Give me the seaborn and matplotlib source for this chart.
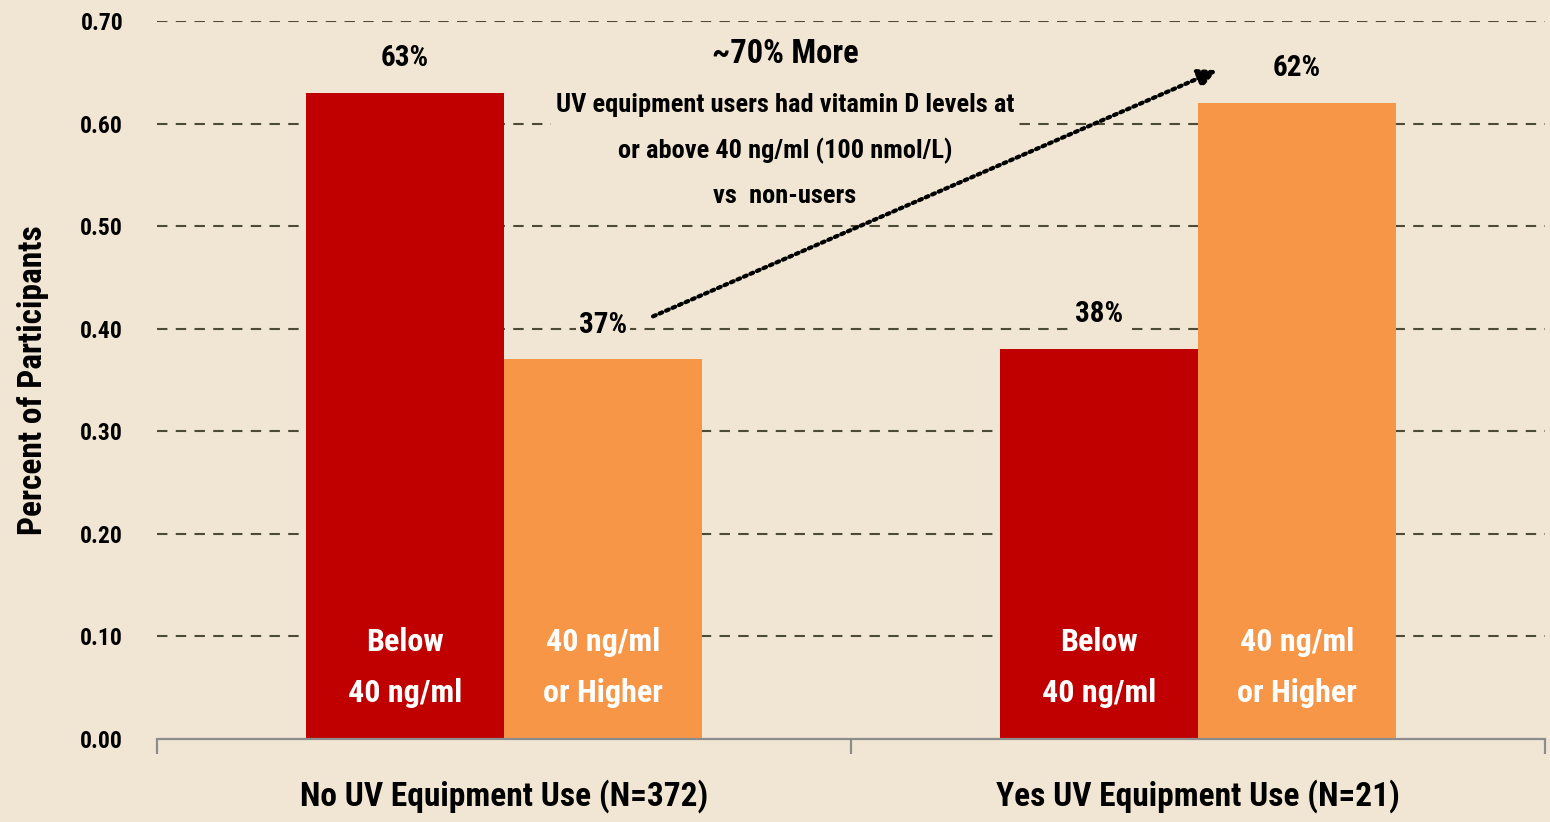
import seaborn as sns
import matplotlib.pyplot as plt
import pandas as pd
from matplotlib import font_manager

# data
groups = ["No UV Equipment Use (N=372)", "Yes UV Equipment Use (N=21)"]
levels = ["Below\n40 ng/ml", "40 ng/ml\nor Higher"]
below_vals = [0.63, 0.38]
above_vals = [0.37, 0.62]
yticks = [0.0, 0.1, 0.2, 0.3, 0.4, 0.5, 0.6, 0.7]

df = pd.DataFrame({
    "group": groups * 2,
    "level": [levels[0]] * 2 + [levels[1]] * 2,
    "value": below_vals + above_vals,
})

BG = "#F1E6D3"
RED = "#C00000"
ORANGE = "#F79646"

sns.set_theme(style="white")
fonts = font_manager.fontManager.ttflist
names = {f.name for f in fonts}
narrow = [n for n in ["Roboto Condensed", "Liberation Sans Narrow", "Open Sans Condensed"] if n in names]
FONT = narrow[0] if narrow else "DejaVu Sans"
plt.rcParams["font.family"] = [FONT, "DejaVu Sans"]
plt.rcParams["font.weight"] = "bold"
plt.rcParams["font.stretch"] = "condensed"
plt.rcParams["text.color"] = "black"
plt.rcParams["axes.labelcolor"] = "black"

fig = plt.figure(figsize=(15.5, 8.22), dpi=100, facecolor=BG)
ax = fig.add_axes([0.101, 0.101, 0.896, 0.8735], facecolor=BG)

sns.barplot(data=df, x="group", y="value", hue="level", hue_order=levels,
            palette={levels[0]: RED, levels[1]: ORANGE}, width=0.57,
            saturation=1, legend=False, linewidth=0, ax=ax, zorder=3)

ax.set_xlim(-0.5, 1.5)
ax.set_ylim(0, 0.7)
ax.set_yticks(yticks)
ax.set_yticklabels([f"{t:.2f}" for t in yticks], fontsize=17, fontweight="bold")
ax.tick_params(axis="y", length=0, pad=24, colors="black")

# grid
for t in yticks[1:]:
    ax.axhline(t, color="#4d4a38", lw=1.5, ls=(0, (5, 4)), zorder=1)

for s in ["top", "right", "left"]:
    ax.spines[s].set_visible(False)
ax.spines["bottom"].set_color("#8c8c8c")
ax.spines["bottom"].set_linewidth(1.6)
ax.spines["bottom"].set_zorder(4)

ax.set_xticks([0, 1])
ax.set_xticklabels(groups, fontsize=24, fontweight="bold")
ax.set_xticks([-0.5, 0.5, 1.5], minor=True)
ax.tick_params(axis="x", which="major", length=0, pad=29, colors="black")
ax.tick_params(axis="x", which="minor", bottom=True, length=11, width=1.6,
               color="#8c8c8c", direction="out")
ax.set_xlabel("")
ax.set_ylabel("Percent of Participants", fontsize=24, fontweight="bold")
ax.yaxis.label.set_va("center")
ax.yaxis.set_label_coords(-0.089, 0.5)

# labels above and inside bars
for container, vals in zip(ax.containers, [below_vals, above_vals]):
    for bar, v in zip(container, vals):
        cx = bar.get_x() + bar.get_width() / 2
        ax.text(cx, v + 0.034, f"{round(v * 100)}%", ha="center", va="center",
                fontsize=21, fontweight="bold",
                bbox=dict(boxstyle="square,pad=0.1", fc=BG, ec="none"), zorder=2)
for container, lab in zip(ax.containers, levels):
    for bar in container:
        cx = bar.get_x() + bar.get_width() / 2
        ax.text(cx, 0.07, lab, ha="center", va="center", fontsize=23,
                fontweight="bold", color="white", linespacing=1.87, zorder=4)

# annotation
ax.text(0.405, 0.668, "~70% More", ha="center", va="center", fontsize=23.5, fontweight="bold")
ax.text(0.405, 0.574, "UV equipment users had vitamin D levels at\nor above 40 ng/ml (100 nmol/L)\nvs  non-users",
        ha="center", va="center", fontsize=19, fontweight="bold", linespacing=2.03,
        bbox=dict(boxstyle="square,pad=0.2", fc=BG, ec="none"), zorder=2)
ax.annotate("", xy=(1.027, 0.652), xytext=(0.215, 0.412),
            arrowprops=dict(arrowstyle="-|>,head_length=0.9,head_width=0.45",
                            linestyle=(0, (0.7, 1.0)), lw=3, color="black",
                            shrinkA=0, shrinkB=0), zorder=5)

fig.savefig("out.png", dpi=100, facecolor=BG)
